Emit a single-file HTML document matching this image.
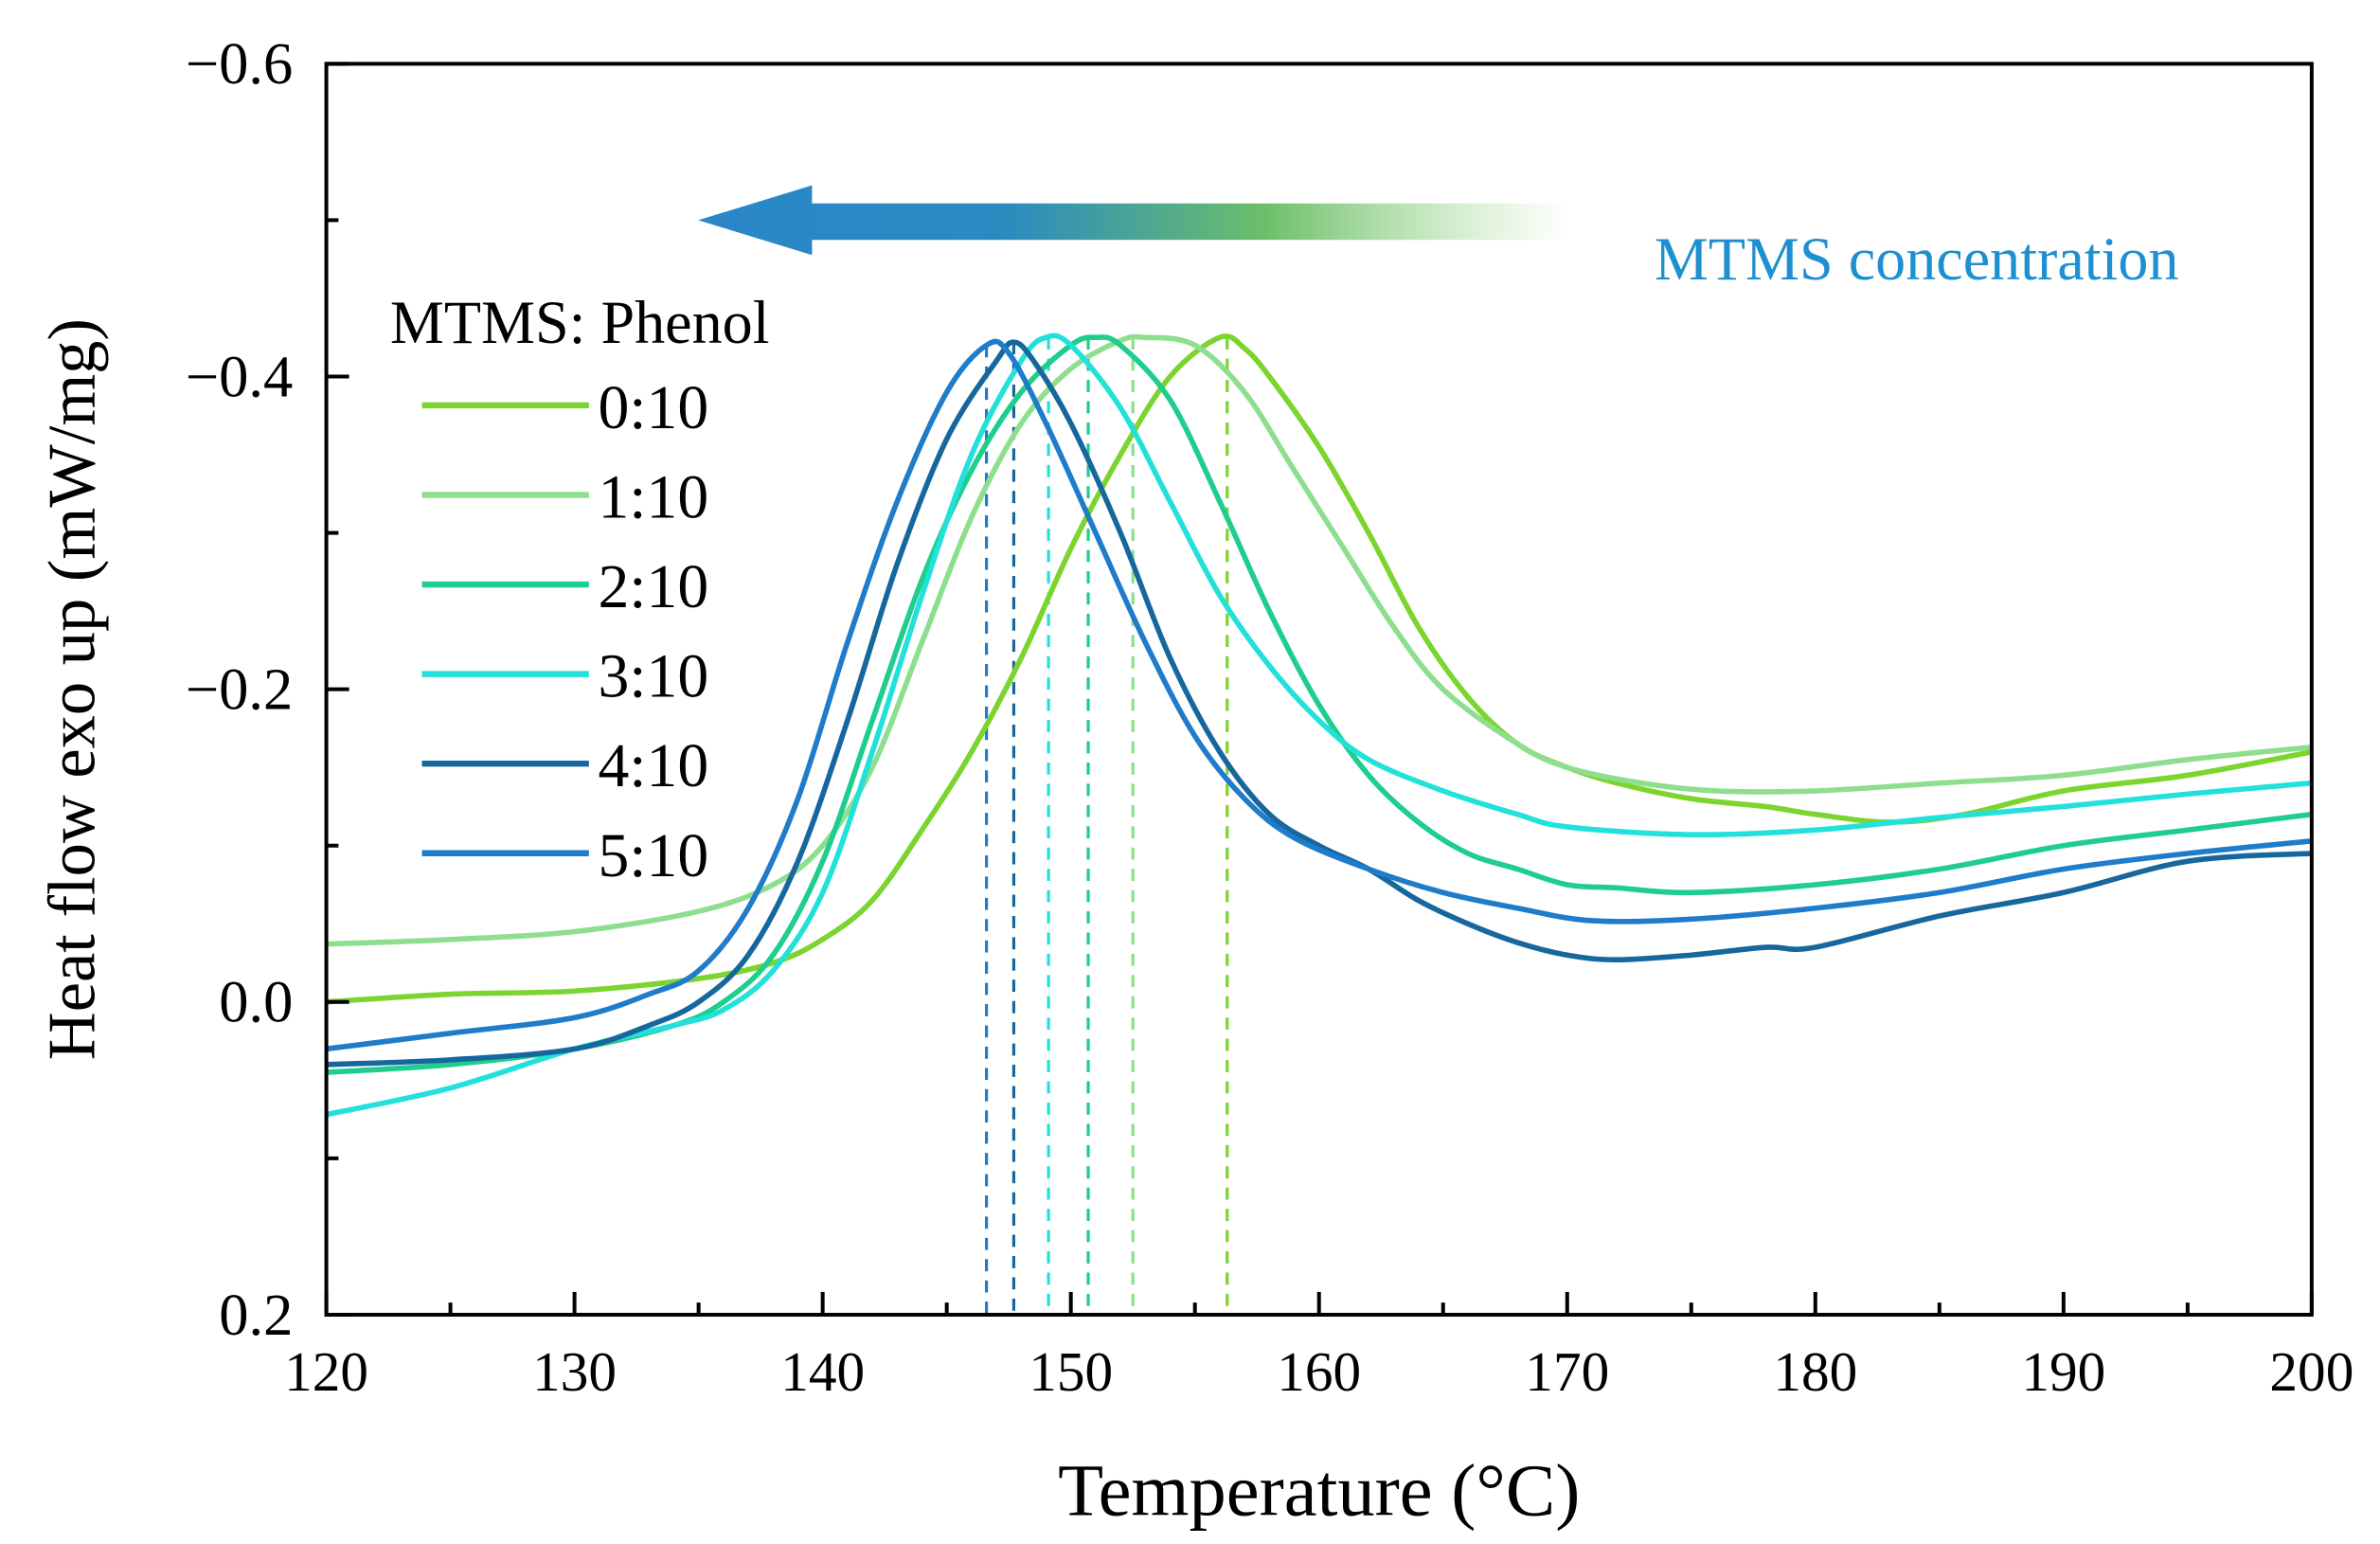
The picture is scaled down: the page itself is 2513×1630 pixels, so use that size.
<!DOCTYPE html>
<html><head><meta charset="utf-8"><style>html,body{margin:0;padding:0;background:#fff}svg{display:block}</style></head>
<body>
<svg id="chart" width="2513" height="1630" viewBox="0 0 1568 1017" xmlns="http://www.w3.org/2000/svg" font-family="Liberation Serif, serif">
<defs>
<linearGradient id="ag" x1="460" y1="0" x2="1035" y2="0" gradientUnits="userSpaceOnUse">
<stop offset="0" stop-color="#2a86c9"/><stop offset="0.35" stop-color="#2a8ac0"/><stop offset="0.65" stop-color="#6cbf6a"/><stop offset="1" stop-color="#9fd88a" stop-opacity="0"/>
</linearGradient>
</defs>
<g id="plot"></g>
</svg>
<script>
const xTicks=[120,130,140,150,160,170,180,190,200];
const yTicks=[-0.6,-0.4,-0.2,0.0,0.2];
const yTickLabels=["\u22120.6","\u22120.4","\u22120.2","0.0","0.2"];
const seriesNames=["0:10","1:10","2:10","3:10","4:10","5:10"];
const seriesColors=["#7cd42e","#8ddf8e","#1fcd8c","#22e0da","#17679f","#1f7ccb"];
const t0=[120,125,130,135,138,140,142,144,146,148,150,152,154,156,157,158,160,162,164,166,168,170,172,175,178,180,183,186,190,195,200];
const v0=[0,-0.005,-0.007,-0.015,-0.025,-0.04,-0.065,-0.11,-0.16,-0.22,-0.29,-0.35,-0.40,-0.425,-0.418,-0.40,-0.355,-0.30,-0.24,-0.195,-0.165,-0.15,-0.14,-0.13,-0.125,-0.12,-0.115,-0.12,-0.135,-0.145,-0.16];
const t1=[120,125,130,135,138,140,142,144,146,148,150,152,153,155,157,159,161,163,165,168,170,173,176,180,185,190,195,200];
const v1=[-0.037,-0.04,-0.045,-0.058,-0.075,-0.1,-0.15,-0.23,-0.31,-0.37,-0.405,-0.423,-0.425,-0.42,-0.39,-0.34,-0.29,-0.24,-0.2,-0.165,-0.15,-0.14,-0.135,-0.135,-0.14,-0.145,-0.155,-0.163];
const t2=[120,125,130,134,136,138,140,142,144,146,148,150,151,152,154,156,158,160,162,164,166,168,170,172,175,180,185,190,195,200];
const v2=[0.045,0.04,0.03,0.015,0,-0.03,-0.09,-0.18,-0.27,-0.34,-0.39,-0.42,-0.425,-0.42,-0.385,-0.32,-0.25,-0.19,-0.145,-0.115,-0.095,-0.085,-0.075,-0.073,-0.07,-0.075,-0.085,-0.1,-0.11,-0.12];
const t3=[120,125,130,134,136,138,140,142,144,146,148,149,150,152,154,156,158,160,162,165,168,170,175,180,185,190,195,200];
const v3=[0.072,0.055,0.03,0.015,0.005,-0.02,-0.07,-0.16,-0.26,-0.35,-0.41,-0.425,-0.42,-0.38,-0.32,-0.26,-0.215,-0.18,-0.155,-0.135,-0.12,-0.112,-0.107,-0.11,-0.118,-0.125,-0.133,-0.14];
const t4=[120,125,130,133,135,137,139,141,143,145,147,147.7,148.5,150,152,154,156,158,160,162,164,166,168,170,172,175,178,180,185,190,195,200];
const v4=[0.04,0.037,0.03,0.015,0,-0.03,-0.09,-0.18,-0.28,-0.36,-0.41,-0.422,-0.41,-0.37,-0.3,-0.22,-0.16,-0.12,-0.1,-0.085,-0.065,-0.05,-0.038,-0.03,-0.027,-0.03,-0.035,-0.035,-0.055,-0.07,-0.09,-0.095];
const t5=[120,125,130,133,135,137,139,141,143,145,146.6,147.5,149,151,153,155,157,159,162,165,168,171,175,180,185,190,195,200];
const v5=[0.03,0.02,0.01,-0.005,-0.02,-0.06,-0.13,-0.23,-0.32,-0.39,-0.42,-0.415,-0.37,-0.3,-0.23,-0.17,-0.13,-0.105,-0.085,-0.07,-0.06,-0.052,-0.053,-0.06,-0.07,-0.085,-0.095,-0.103];
const peakT=[156.3,152.5,150.7,149.1,147.7,146.6];
const peakV=[-0.425,-0.425,-0.425,-0.425,-0.422,-0.42];

const L=215,R=1523,T=42,B=866;
const X=t=>L+(t-120)/(200-120)*(R-L);
const Y=v=>T+(v-(-0.6))/(0.2-(-0.6))*(B-T);
const NS="http://www.w3.org/2000/svg";
const g=document.getElementById('plot');
function mk(tag,a,txt){const e=document.createElementNS(NS,tag);for(const k in a)e.setAttribute(k,a[k]);if(txt!==undefined)e.textContent=txt;g.appendChild(e);return e;}

let e=mk('path',{d:`M460 145 L535 122 L535 134 L1035 134 L1035 158 L535 158 L535 168 Z`,fill:'url(#ag)'});


e=mk('text',{x:1090,y:184,'font-size':40,fill:'#1e8fd0'},'MTMS concentration');



for(let i=0;i<peakT.length;i++){
 e=mk('line',{x1:X(peakT[i]),x2:X(peakT[i]),y1:Y(peakV[i]),y2:B,stroke:seriesColors[i],'stroke-width':2,'stroke-dasharray':'8 6'});
 
 
}
const ts=[t0,t1,t2,t3,t4,t5],vs=[v0,v1,v2,v3,v4,v5];
function smooth(px){let d=`M${px[0][0]},${px[0][1]}`;for(let i=0;i<px.length-1;i++){const p0=px[Math.max(0,i-1)],p1=px[i],p2=px[i+1],p3=px[Math.min(px.length-1,i+2)];const c1=[p1[0]+(p2[0]-p0[0])/6,p1[1]+(p2[1]-p0[1])/6],c2=[p2[0]-(p3[0]-p1[0])/6,p2[1]-(p3[1]-p1[1])/6];d+=` C${c1[0]},${c1[1]} ${c2[0]},${c2[1]} ${p2[0]},${p2[1]}`;}return d;}
for(let s=0;s<6;s++){
 const px=ts[s].map((t,i)=>[X(t),Y(vs[s][i])]);
 e=mk('path',{d:smooth(px),fill:'none',stroke:seriesColors[s],'stroke-width':3.5,'stroke-linejoin':'round'});
 
 
}
e=mk('rect',{x:L,y:T,width:R-L,height:B-T,fill:'none',stroke:'#000','stroke-width':2.5});


for(let t=120;t<=200;t+=5){const maj=(t%10===0);e=mk('line',{x1:X(t),x2:X(t),y1:B,y2:B-(maj?15:8),stroke:'#000','stroke-width':2.5});
 
 }
xTicks.forEach(t=>{e=mk('text',{x:X(t),y:B+50,'font-size':37,'text-anchor':'middle'},String(t));
 
 });
for(let k=0;k<=8;k++){const v=-0.6+k*0.1;const maj=(k%2===0);e=mk('line',{x1:L,x2:L+(maj?15:8),y1:Y(v),y2:Y(v),stroke:'#000','stroke-width':2.5});
 
 }
yTicks.forEach((v,i)=>{e=mk('text',{x:193,y:Y(v)+13,'font-size':39,'text-anchor':'end'},yTickLabels[i]);
 
 });
e=mk('text',{x:869,y:998,'font-size':49,'text-anchor':'middle'},'Temperature (\u00B0C)');


e=mk('text',{x:0,y:0,'font-size':44,'text-anchor':'middle',transform:`translate(62,454) rotate(-90)`},'Heat flow exo up (mW/mg)');


e=mk('text',{x:257,y:226,'font-size':40},'MTMS: Phenol');


for(let s=0;s<6;s++){const y=267+s*59;
 e=mk('line',{x1:278,x2:388,y1:y,y2:y,stroke:seriesColors[s],'stroke-width':4});
 
 
 e=mk('text',{x:394,y:y+15,'font-size':41},seriesNames[s]);
 
 
}
</script>
</body></html>
